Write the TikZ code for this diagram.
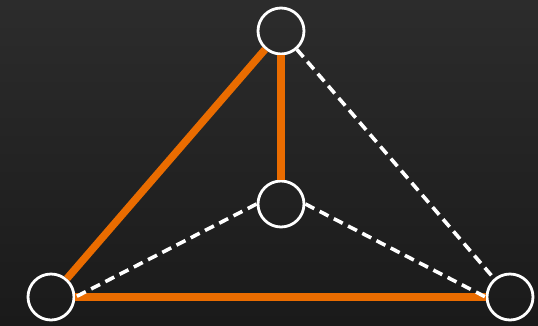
\documentclass[tikz,border=0pt]{standalone}
\definecolor{bgtop}{HTML}{2C2C2C}
\definecolor{bgbot}{HTML}{1A1A1A}
\definecolor{edgeorange}{HTML}{EA6C00}
\tikzset{
  vertex/.style={circle,draw=white,line width=2.8pt,minimum size=46pt,inner sep=0pt},
  hotedge/.style={edgeorange,line width=7.5pt},
  dashedge/.style={white,line width=3.6pt,dash pattern=on 10pt off 6pt}
}
\begin{document}
\begin{tikzpicture}[x=1pt,y=-1pt]
\shade[top color=bgtop,bottom color=bgbot] (0,0) rectangle (538,325);
\useasboundingbox (0,0) rectangle (538,325);
\node[vertex] (t) at (281,31) {};
\node[vertex] (m) at (281,204) {};
\node[vertex] (l) at (51,297) {};
\node[vertex] (r) at (510,297) {};
\draw[hotedge] (t) -- (l);
\draw[hotedge] (t) -- (m);
\draw[hotedge] (l) -- (r);
\draw[dashedge] (t) -- (r);
\draw[dashedge] (m.west) -- (l.east);
\draw[dashedge] (m.east) -- (r.west);
\end{tikzpicture}
\end{document}
